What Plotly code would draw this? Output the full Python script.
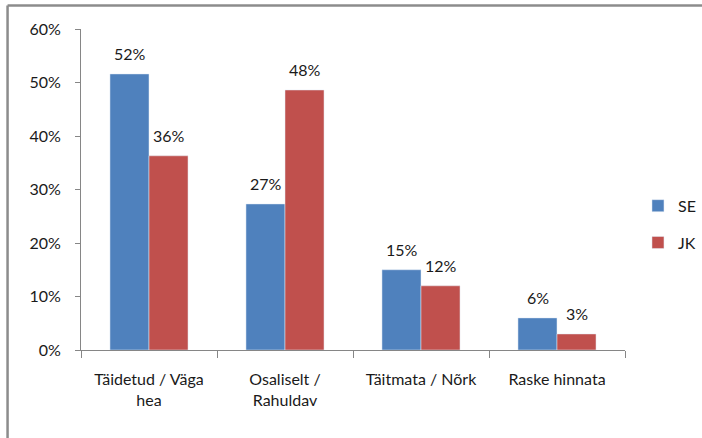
import plotly.graph_objects as go

categories = ["Täidetud / Väga<br>hea", "Osaliselt /<br>Rahuldav", "Täitmata / Nõrk", "Raske hinnata"]
se_values = [0.516, 0.273, 0.15, 0.06]
jk_values = [0.363, 0.486, 0.12, 0.03]
se_labels = ["52%", "27%", "15%", "6%"]
jk_labels = ["36%", "48%", "12%", "3%"]
y_ticks = [0, 0.1, 0.2, 0.3, 0.4, 0.5, 0.6]

FONT = "Lato"
TXT = "#1a1a1a"
fig = go.Figure()
fig.add_trace(go.Bar(name="SE", x=categories, y=se_values,
                     marker_color="#4F81BD", legendgroup="a"))
fig.add_trace(go.Bar(name="JK", x=categories, y=jk_values,
                     marker_color="#C0504D", legendgroup="b"))

# data labels above each bar (offset to each bar's centre within the group)
annotations = []
for labels, values, dx in ((se_labels, se_values, -19.5), (jk_labels, jk_values, 19.5)):
    for c, v, t in zip(categories, values, labels):
        annotations.append(dict(x=c, y=v, text=t, showarrow=False, xref="x", yref="y",
                                xshift=dx, yshift=20, yanchor="middle",
                                font=dict(family=FONT, size=16, color=TXT)))

fig.update_layout(
    width=702, height=438,
    margin=dict(l=81, r=77, t=29, b=88),
    paper_bgcolor="white", plot_bgcolor="white",
    font=dict(family=FONT, size=16, color=TXT),
    barmode="group", bargap=0.426, bargroupgap=0,
    showlegend=True,
    legend=dict(xref="container", yref="container", x=0.9088, y=0.569,
                xanchor="left", yanchor="top",
                font=dict(size=16), tracegroupgap=13, traceorder="grouped"),
    xaxis=dict(showline=True, linecolor="#868686", linewidth=1,
               ticks="outside", ticklen=7, tickcolor="#868686",
               tickson="boundaries", showgrid=False, ticklabelstandoff=15),
    yaxis=dict(range=[0, 0.6], tickvals=y_ticks, tickformat=".0%",
               showline=True, linecolor="#868686", linewidth=1,
               ticks="outside", ticklen=5, tickcolor="#868686",
               showgrid=False, zeroline=False, ticklabelstandoff=11),
    annotations=annotations,
    shapes=[
        dict(type="line", xref="paper", yref="paper", x0=-0.135, x1=1.2, y0=1.0732, y1=1.0732,
             line=dict(color="#8C8C8C", width=2.5)),
        dict(type="line", xref="paper", yref="paper", x0=-0.135, x1=-0.135, y0=1.0732, y1=-0.3,
             line=dict(color="#8C8C8C", width=2.5)),
    ],
)
fig.write_html("out.html", config={"displayModeBar": False},
               post_script="document.body.style.margin='0px';")
